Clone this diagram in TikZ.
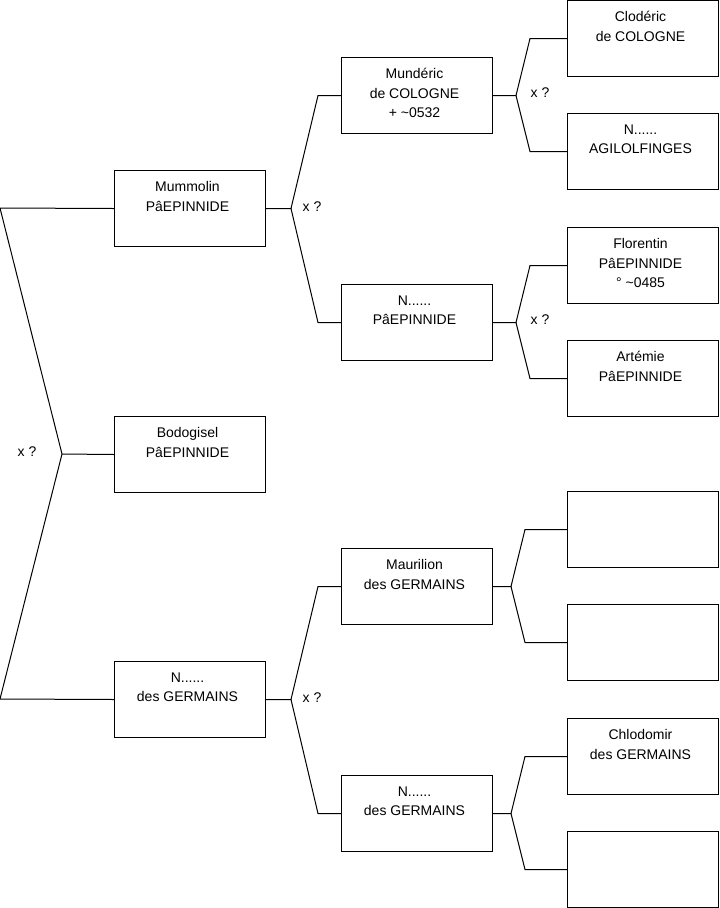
\documentclass[tikz,border=0pt]{standalone}
\usepackage{fontspec}
\setmainfont{Liberation Sans}
\usetikzlibrary{positioning}

\begin{document}
\begin{tikzpicture}[
    x=0.75pt, y=-0.75pt,
    person/.style={rectangle, draw, line width=0.75pt, anchor=north west, inner sep=0pt,
        minimum width=113.25pt, minimum height=57pt,
        execute at begin node={\begin{minipage}[t][57pt][t]{113.25pt}\centering\rightskip=3.75pt plus 1fil
            \fontsize{10.5}{14.6}\selectfont\vspace*{8.2pt}},
        execute at end node={\end{minipage}}},
    link/.style={line width=0.75pt},
    guess/.style={font=\fontsize{10.5}{12}\selectfont, inner sep=0pt},
]
\useasboundingbox (0,0) rectangle (719,908);

% first generation
\node[person] (mummolin) at (114,170) {Mummolin\\PâEPINNIDE};
\node[person] (bodogisel) at (114,416) {Bodogisel\\PâEPINNIDE};
\node[person] (germ1) at (114,661) {N......\\des GERMAINS};

% second generation
\node[person] (munderic) at (341,57) {Mundéric\\de COLOGNE\\+ \textasciitilde0532};
\node[person] (pep1) at (341,284) {N......\\PâEPINNIDE};
\node[person] (maurilion) at (341,548) {Maurilion\\des GERMAINS};
\node[person] (germ2) at (341,775) {N......\\des GERMAINS};

% third generation
\node[person] (cloderic) at (567,0) {Clodéric\\de COLOGNE};
\node[person] (agil) at (567,113) {N......\\AGILOLFINGES};
\node[person] (florentin) at (567,227) {Florentin\\PâEPINNIDE\\° \textasciitilde0485};
\node[person] (artemie) at (567,340) {Artémie\\PâEPINNIDE};
\node[person] (blank1) at (567,491) {};
\node[person] (blank2) at (567,604) {};
\node[person] (chlodomir) at (567,718) {Chlodomir\\des GERMAINS};
\node[person] (blank3) at (567,831) {};

% root bracket
\coordinate (top0) at (0,208);
\coordinate (fork0) at (62,454);
\coordinate (bot0) at (0,699);
\draw[link] (mummolin.west) -- (top0) -- (fork0) -- (bot0) -- (germ1.west);
\draw[link] (fork0) -- (bodogisel.west);
\node[guess] (q0) at (27,452) {x ?};

% first to second
\draw[link] (mummolin.east) -- ++(25,0) coordinate (fork1)
    -- ([xshift=-17.25pt]munderic.west) -- (munderic.west);
\draw[link] (fork1) -- ([xshift=-17.25pt]pep1.west) -- (pep1.west);
\node[guess] (q1) at (312,207) {x ?};

\draw[link] (germ1.east) -- ++(25,0) coordinate (fork2)
    -- ([xshift=-17.25pt]maurilion.west) -- (maurilion.west);
\draw[link] (fork2) -- ([xshift=-17.25pt]germ2.west) -- (germ2.west);
\node[guess] (q2) at (312,698) {x ?};

% second to third
\draw[link] (munderic.east) -- ++(23,0) coordinate (fork3)
    -- ([xshift=-27.75pt]cloderic.west) -- (cloderic.west);
\draw[link] (fork3) -- ([xshift=-27.75pt]agil.west) -- (agil.west);
\node[guess] (q3) at (540,93) {x ?};

\draw[link] (pep1.east) -- ++(23,0) coordinate (fork4)
    -- ([xshift=-27.75pt]florentin.west) -- (florentin.west);
\draw[link] (fork4) -- ([xshift=-27.75pt]artemie.west) -- (artemie.west);
\node[guess] (q4) at (540,320) {x ?};

\draw[link] (maurilion.east) -- ++(18,0) coordinate (fork5)
    -- ([xshift=-31.5pt]blank1.west) -- (blank1.west);
\draw[link] (fork5) -- ([xshift=-31.5pt]blank2.west) -- (blank2.west);

\draw[link] (germ2.east) -- ++(18,0) coordinate (fork6)
    -- ([xshift=-31.5pt]chlodomir.west) -- (chlodomir.west);
\draw[link] (fork6) -- ([xshift=-31.5pt]blank3.west) -- (blank3.west);
\end{tikzpicture}
\end{document}
